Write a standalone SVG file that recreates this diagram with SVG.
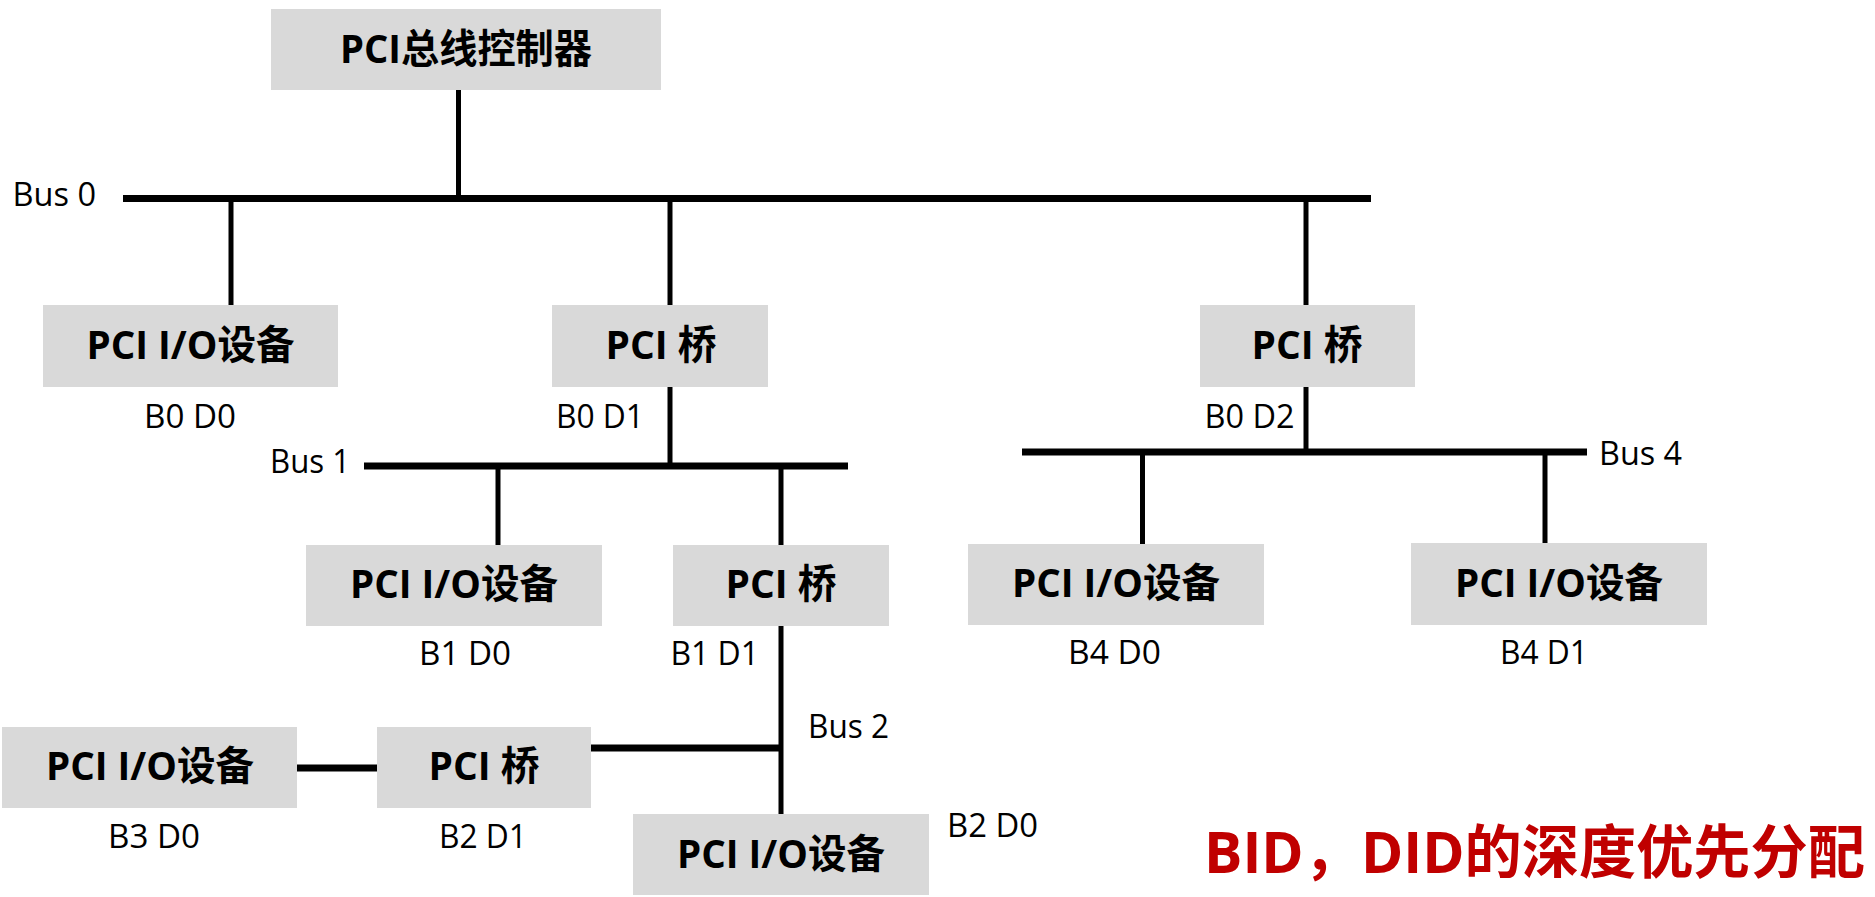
<svg xmlns="http://www.w3.org/2000/svg" width="1875" height="897" viewBox="0 0 1875 897">
<style>
.box{fill:#D9D9D9}
.t{font-family:'Open Sans','Noto Sans CJK SC',sans-serif;font-weight:700;font-size:40px;fill:#000;text-anchor:middle}
.l{font-family:'Open Sans','Noto Sans CJK SC',sans-serif;font-size:32px;fill:#000}
.w{stroke:#000;stroke-width:5;fill:none}
.bus{stroke:#000;stroke-width:7;fill:none}
.red{font-family:'Open Sans','Noto Sans CJK SC',sans-serif;font-weight:700;font-size:58px;fill:#C00000}
</style>
<rect width="1875" height="897" fill="#fff"/>
<g id="connectors">
<line class="w" x1="458.5" y1="90" x2="458.5" y2="198"/>
<line class="bus" x1="123" y1="198.5" x2="1371" y2="198.5"/>
<line class="w" x1="231" y1="198" x2="231" y2="305"/>
<line class="w" x1="670" y1="198" x2="670" y2="305"/>
<line class="w" x1="1306" y1="198" x2="1306" y2="305"/>
<line class="w" x1="670" y1="387" x2="670" y2="466"/>
<line class="bus" x1="364" y1="466" x2="848" y2="466"/>
<line class="w" x1="498" y1="466" x2="498" y2="545"/>
<line class="w" x1="781" y1="466" x2="781" y2="545"/>
<line class="w" x1="781" y1="626" x2="781" y2="814"/>
<line class="bus" x1="591" y1="748" x2="781" y2="748"/>
<line class="bus" x1="297" y1="768" x2="377" y2="768"/>
<line class="w" x1="1306" y1="387" x2="1306" y2="452"/>
<line class="bus" x1="1022" y1="452" x2="1587" y2="452"/>
<line class="w" x1="1142.5" y1="452" x2="1142.5" y2="544"/>
<line class="w" x1="1545" y1="452" x2="1545" y2="543"/>
</g>
<g id="bus-labels">
<text class="l" x="12.5" y="206" textLength="83.5" lengthAdjust="spacingAndGlyphs">Bus 0</text>
<text class="l" x="270" y="473" textLength="80" lengthAdjust="spacingAndGlyphs">Bus 1</text>
<text class="l" x="808" y="738" textLength="81" lengthAdjust="spacingAndGlyphs">Bus 2</text>
<text class="l" x="1599" y="465" textLength="83" lengthAdjust="spacingAndGlyphs">Bus 4</text>
</g>
<g id="controller">
<rect class="box" x="271" y="9" width="390" height="81"/>
<text class="t" x="466" y="63" textLength="252" lengthAdjust="spacingAndGlyphs">PCI总线控制器</text>
</g>
<g id="io-b0d0">
<rect class="box" x="43" y="305" width="295" height="82"/>
<text class="t" x="190.5" y="359" textLength="208" lengthAdjust="spacingAndGlyphs">PCI I/O设备</text>
<text class="l" x="144" y="428" textLength="92" lengthAdjust="spacingAndGlyphs">B0 D0</text>
</g>
<g id="bridge-b0d1">
<rect class="box" x="552" y="305" width="216" height="82"/>
<text class="t" x="661" y="359" textLength="111" lengthAdjust="spacingAndGlyphs">PCI 桥</text>
<text class="l" x="556" y="428" textLength="88" lengthAdjust="spacingAndGlyphs">B0 D1</text>
</g>
<g id="bridge-b0d2">
<rect class="box" x="1200" y="305" width="215" height="82"/>
<text class="t" x="1307" y="359" textLength="111" lengthAdjust="spacingAndGlyphs">PCI 桥</text>
<text class="l" x="1204.5" y="428" textLength="90" lengthAdjust="spacingAndGlyphs">B0 D2</text>
</g>
<g id="io-b1d0">
<rect class="box" x="306" y="545" width="296" height="81"/>
<text class="t" x="454" y="598" textLength="208" lengthAdjust="spacingAndGlyphs">PCI I/O设备</text>
<text class="l" x="419" y="665" textLength="92" lengthAdjust="spacingAndGlyphs">B1 D0</text>
</g>
<g id="bridge-b1d1">
<rect class="box" x="673" y="545" width="216" height="81"/>
<text class="t" x="781" y="598" textLength="111" lengthAdjust="spacingAndGlyphs">PCI 桥</text>
<text class="l" x="670.5" y="665" textLength="88.5" lengthAdjust="spacingAndGlyphs">B1 D1</text>
</g>
<g id="io-b4d0">
<rect class="box" x="968" y="544" width="296" height="81"/>
<text class="t" x="1116" y="597" textLength="208" lengthAdjust="spacingAndGlyphs">PCI I/O设备</text>
<text class="l" x="1068" y="664" textLength="93" lengthAdjust="spacingAndGlyphs">B4 D0</text>
</g>
<g id="io-b4d1">
<rect class="box" x="1411" y="543" width="296" height="82"/>
<text class="t" x="1559" y="597" textLength="208" lengthAdjust="spacingAndGlyphs">PCI I/O设备</text>
<text class="l" x="1500" y="664" textLength="88" lengthAdjust="spacingAndGlyphs">B4 D1</text>
</g>
<g id="bridge-b2d1">
<rect class="box" x="377" y="727" width="214" height="81"/>
<text class="t" x="484" y="780" textLength="111" lengthAdjust="spacingAndGlyphs">PCI 桥</text>
<text class="l" x="439" y="848" textLength="88" lengthAdjust="spacingAndGlyphs">B2 D1</text>
</g>
<g id="io-b3d0">
<rect class="box" x="2" y="727" width="295" height="81"/>
<text class="t" x="150" y="780" textLength="208" lengthAdjust="spacingAndGlyphs">PCI I/O设备</text>
<text class="l" x="108" y="848" textLength="92" lengthAdjust="spacingAndGlyphs">B3 D0</text>
</g>
<g id="io-b2d0">
<rect class="box" x="633" y="814" width="296" height="81"/>
<text class="t" x="781" y="868" textLength="208" lengthAdjust="spacingAndGlyphs">PCI I/O设备</text>
<text class="l" x="947" y="837" textLength="91" lengthAdjust="spacingAndGlyphs">B2 D0</text>
</g>
<g id="caption">
<text class="red" x="1204" y="873" textLength="661" lengthAdjust="spacingAndGlyphs">BID，DID的深度优先分配</text>
</g>
</svg>
